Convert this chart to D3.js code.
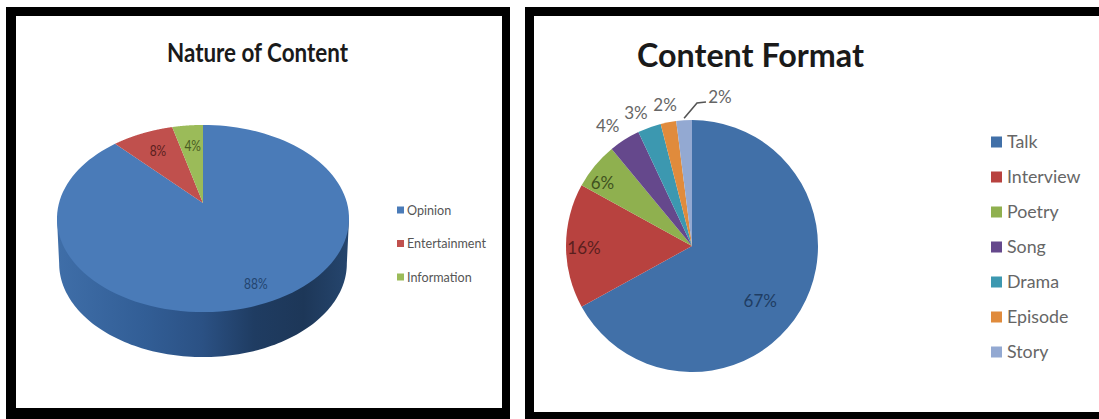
<!DOCTYPE html>
<html>
<head>
<meta charset="utf-8">
<title>Nature of Content and Content Format</title>
<script src="https://cdn.jsdelivr.net/npm/d3@7/dist/d3.min.js"></script>
<style>
  html, body { margin: 0; padding: 0; background: #fff; }
  svg { display: block; }
</style>
</head>
<body>
<svg id="chart" width="1099" height="419"></svg>
<script>
// Nature of Content
const natureCategories = ["Opinion", "Entertainment", "Information"];
const natureValues = [88, 8, 4];
const natureColors = ["#4a7bb8", "#c0504d", "#9bbb59"];
const natureLabelColors = ["#23456f", "#5a1f1e", "#4a5c22"];

// Content Format
const formatCategories = ["Talk", "Interview", "Poetry", "Song", "Drama", "Episode", "Story"];
const formatValues = [67, 16, 6, 4, 3, 2, 2];
const formatColors = ["#4170a8", "#b8423f", "#8fb04f", "#65488c", "#3c98b0", "#e08b3c", "#93a9d2"];
const formatLabelColors = ["#1f3d63", "#5a1f1e", "#3f5220", "#666", "#666", "#666", "#666"];

// Label placement: fraction of the radius along the slice's middle, plus a small nudge.
const natureLabelPlace = [[0.85, 1, -2], [0.7, -1, -2], [0.7, 1, -1]];
const formatLabelPlace = [[0.86, -25, 0], [0.857, 0, 2], [0.86, -6, 6], [1.16, -6, 3.5], [1.15, -7, 3], [1.14, 0, 0], [1.2, 37.5, 2]];

const svg = d3.select("#chart");
const pie = d3.pie().sort(null).value(d => d);

// Picture frames around the two panels
const frames = [
  { outer: [6, 7, 504, 412], inner: [16, 16, 486, 392] },
  { outer: [525, 7, 574, 412], inner: [534, 16, 565, 396] }
];
frames.forEach(f => {
  svg.append("rect").attr("x", f.outer[0]).attr("y", f.outer[1]).attr("width", f.outer[2]).attr("height", f.outer[3]).attr("fill", "#000");
  svg.append("rect").attr("x", f.inner[0]).attr("y", f.inner[1]).attr("width", f.inner[2]).attr("height", f.inner[3]).attr("fill", "#fff");
});

function legend(g, names, colors, opts) {
  const rows = g.selectAll("g").data(names).join("g")
    .attr("transform", (d, i) => `translate(${opts.x},${opts.y + i * opts.step})`);
  rows.append("rect")
    .attr("x", 0).attr("y", -opts.box / 2)
    .attr("width", opts.box).attr("height", opts.box)
    .attr("fill", (d, i) => colors[i]);
  rows.append("text")
    .attr("transform", `translate(${opts.textX},0) scale(${opts.squeeze},1)`)
    .attr("dy", "0.35em")
    .attr("font-family", opts.font).attr("font-size", opts.size)
    .attr("fill", opts.fill)
    .text(d => d);
}

/* ---------- Left panel: tilted 3-D pie ---------- */
const tilt = { cx: 203, cy: 203, rx: 144, ry: 91, k: 0.166, depth: 45 };

// Projects a polar position on the pie's disc to the page, far edge foreshortened
function project(angle, frac = 1) {
  const u = Math.sin(angle) * frac, v = Math.cos(angle) * frac;
  const w = 1 + tilt.k * v;
  return [tilt.cx + tilt.rx * u / w, tilt.cy - tilt.ry * v / w];
}
const outline = d3.line().curve(d3.curveLinear);
const sweep = (a0, a1) => d3.range(0, 121).map(i => a0 + (a1 - a0) * i / 120);

const defs = svg.append("defs");
const sideGrad = defs.append("linearGradient").attr("id", "sideShade")
  .attr("gradientUnits", "userSpaceOnUse")
  .attr("x1", 57).attr("x2", 347).attr("y1", 0).attr("y2", 0);
[[0, "#3f6ea8"], [0.3, "#325e96"], [0.5, "#2b5184"], [0.68, "#1f3c62"], [0.85, "#1d3758"], [1, "#25456d"]]
  .forEach(([o, c]) => sideGrad.append("stop").attr("offset", o).attr("stop-color", c));

const nature = svg.append("g");
const widest = Math.acos(-tilt.k);
const rimTop = sweep(widest, 2 * Math.PI - widest).map(a => project(a));
const rimLow = rimTop.map(([x, y]) => [tilt.cx + (x - tilt.cx) * 0.985, y + tilt.depth]);
nature.append("path")
  .attr("d", outline([rimTop[0], ...rimLow, rimTop[rimTop.length - 1]]) + "Z")
  .attr("fill", "url(#sideShade)");

const natureArcs = pie(natureValues);
nature.selectAll("path.slice").data(natureArcs).join("path")
  .attr("class", "slice")
  .attr("d", d => outline([[tilt.cx, tilt.cy], ...sweep(d.startAngle, d.endAngle).map(a => project(a))]) + "Z")
  .attr("fill", (d, i) => natureColors[i]);

nature.selectAll("text.pct").data(natureArcs).join("text")
  .attr("class", "pct")
  .attr("transform", (d, i) => {
    const [f, dx, dy] = natureLabelPlace[i];
    const [x, y] = project((d.startAngle + d.endAngle) / 2, f);
    return `translate(${x + dx},${y + dy}) scale(0.8,1)`;
  })
  .attr("text-anchor", "middle").attr("dy", "0.35em")
  .attr("font-family", "Lato, sans-serif")
  .attr("font-size", 15)
  .attr("fill", (d, i) => natureLabelColors[i])
  .text(d => d.data + "%");

svg.append("text").attr("x", 167).attr("y", 62)
  .attr("textLength", 181).attr("lengthAdjust", "spacingAndGlyphs")
  .attr("font-family", "Lato, sans-serif")
  .attr("font-weight", "bold").attr("font-size", 27).attr("fill", "#1a1a1a")
  .text("Nature of Content");

legend(svg.append("g"), natureCategories, natureColors, {
  x: 397, y: 210, step: 33.5, box: 7, textX: 10, size: 14, squeeze: 0.9,
  font: "Lato, sans-serif", fill: "#555"
});

/* ---------- Right panel: flat pie ---------- */
const flat = { cx: 692, cy: 246, r: 126 };
const arc = d3.arc().innerRadius(0).outerRadius(flat.r);
const format = svg.append("g").attr("transform", `translate(${flat.cx},${flat.cy})`);
const formatArcs = pie(formatValues);

format.selectAll("path").data(formatArcs).join("path")
  .attr("d", arc)
  .attr("fill", (d, i) => formatColors[i]);

// Elbow leader from the Story slice to its label
const storyMid = (formatArcs[6].startAngle + formatArcs[6].endAngle) / 2;
const leaderStart = [Math.sin(storyMid) * flat.r, -Math.cos(storyMid) * flat.r];
format.append("path")
  .attr("d", d3.line()([[leaderStart[0], leaderStart[1] - 2], [5, -143], [14, -144]]))
  .attr("fill", "none").attr("stroke", "#555").attr("stroke-width", 1.6);

format.selectAll("text").data(formatArcs).join("text")
  .attr("transform", (d, i) => {
    const [f, dx, dy] = formatLabelPlace[i];
    const a = (d.startAngle + d.endAngle) / 2;
    return `translate(${Math.sin(a) * flat.r * f + dx},${-Math.cos(a) * flat.r * f + dy})`;
  })
  .attr("text-anchor", "middle").attr("dy", "0.35em")
  .attr("font-family", "Lato, sans-serif").attr("font-size", 17)
  .attr("fill", (d, i) => formatLabelColors[i])
  .text(d => d.data + "%");

svg.append("text").attr("x", 637).attr("y", 67)
  .attr("textLength", 227).attr("lengthAdjust", "spacingAndGlyphs")
  .attr("font-family", "Lato, sans-serif").attr("font-weight", "bold")
  .attr("font-size", 32).attr("fill", "#1a1a1a")
  .text("Content Format");

legend(svg.append("g"), formatCategories, formatColors, {
  x: 991, y: 142, step: 35, box: 11, textX: 16, size: 17.8, squeeze: 1,
  font: "Lato, sans-serif", fill: "#666"
});
</script>
</body>
</html>
